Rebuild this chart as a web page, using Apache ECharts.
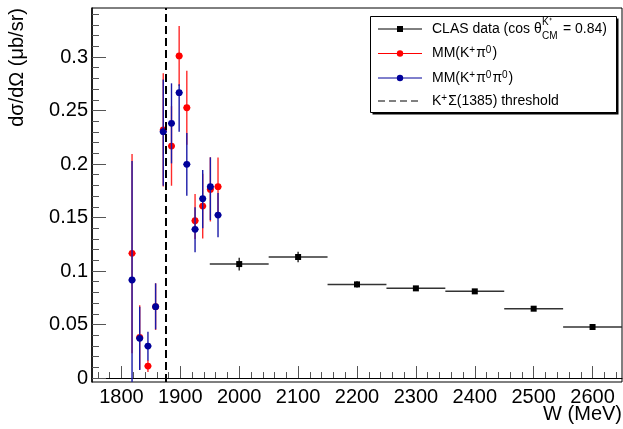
<!DOCTYPE html>
<html><head><meta charset="utf-8">
<script src="https://cdn.jsdelivr.net/npm/echarts@6/dist/echarts.min.js"></script>
<style>html,body{margin:0;padding:0;background:#fff}#c{width:623px;height:429px}</style>
</head><body><div id="c"></div>
<script>
// ---- data ----
const mmW = [1818, 1831, 1845, 1858, 1871, 1885, 1898, 1911, 1925, 1938, 1951, 1964];
const mmWErr = 6;
const redVal = [0.1165, 0.038, 0.0112, 0.0667, 0.2318, 0.2168, 0.301, 0.2526, 0.147, 0.1607, 0.1763, 0.1788];
const redLo  = [0.0231, 0.008, 0.0056, 0.0450, 0.1790, 0.1797, 0.273, 0.2180, 0.130, 0.1305, 0.1463, 0.1514];
const redHi  = [0.2093, 0.068, 0.0168, 0.0885, 0.2848, 0.2540, 0.329, 0.2872, 0.172, 0.1910, 0.2063, 0.2062];
const blueVal = [0.0916, 0.0371, 0.0299, 0.0667, 0.2302, 0.2380, 0.2667, 0.1997, 0.1390, 0.1676, 0.1788, 0.1523];
const blueLo  = [-0.0190, 0.0075, 0.0164, 0.0455, 0.1797, 0.2006, 0.2302, 0.1704, 0.1175, 0.1399, 0.1477, 0.1315];
const blueHi  = [0.2028, 0.0667, 0.0433, 0.0885, 0.2790, 0.2754, 0.2745, 0.2290, 0.1595, 0.1944, 0.2062, 0.1730];
const clasW = [2000, 2100, 2200, 2300, 2400, 2500, 2600];
const clasWErr = 50;
const clasVal = [0.1065, 0.1131, 0.0875, 0.0838, 0.0810, 0.0648, 0.0477];
const clasErr = [0.006, 0.005, 0.003, 0.002, 0.002, 0.002, 0.002];
const thresholdW = 1876;
const xTickLabels = [1800, 1900, 2000, 2100, 2200, 2300, 2400, 2500, 2600];
const yTickLabels = [0, 0.05, 0.1, 0.15, 0.2, 0.25, 0.3];
const xMinorTicks = []; for (let v = 1760; v <= 2640; v += 20) xMinorTicks.push(v);
const yMinorTicks = []; for (let k = 0; k <= 34; k++) yMinorTicks.push(+(k * 0.01).toFixed(2));

// ---- build ----
const FONT = 'Liberation Sans, Arial, Helvetica, sans-serif';
const clasData = clasW.map((w, i) => [w, clasVal[i], w - clasWErr, w + clasWErr, clasVal[i] - clasErr[i], clasVal[i] + clasErr[i]]);
const redData = mmW.map((w, i) => [w, redVal[i], w - mmWErr, w + mmWErr, redLo[i], redHi[i]]);
const blueData = mmW.map((w, i) => [w, blueVal[i], w - mmWErr, w + mmWErr, blueLo[i], blueHi[i]]);

function makeRender(color, barColor, shape, hw, vw) {
  return function (params, api) {
    const cs = params.coordSys;
    const cl = v => Math.min(Math.max(v, cs.y), cs.y + cs.height);
    const x = api.value(0), y = api.value(1);
    const c = api.coord([x, y]);
    const pl = api.coord([api.value(2), y]);
    const ph = api.coord([api.value(3), y]);
    const py1 = api.coord([x, api.value(4)]);
    const py2 = api.coord([x, api.value(5)]);
    const children = [
      { type: 'line', shape: { x1: pl[0], y1: c[1], x2: ph[0], y2: c[1] }, style: { stroke: barColor, lineWidth: hw } },
      { type: 'line', shape: { x1: c[0], y1: cl(py1[1]), x2: c[0], y2: cl(py2[1]) }, style: { stroke: barColor, lineWidth: vw } }
    ];
    if (shape === 'square') {
      children.push({ type: 'rect', shape: { x: c[0] - 3, y: c[1] - 3, width: 6, height: 6 }, style: { fill: color } });
    } else {
      children.push({ type: 'circle', shape: { cx: c[0], cy: c[1], r: 3.4 }, style: { fill: color } });
    }
    return { type: 'group', children };
  };
}

const fmt = v => String(v);
const option = {
  animation: false,
  backgroundColor: '#fff',
  grid: [{ left: 92, right: 1, top: 8, bottom: 47, show: true, borderColor: '#000', borderWidth: 1, backgroundColor: 'transparent' }],
  xAxis: [
    { type: 'value', gridIndex: 0, position: 'bottom', min: 1750, max: 2650,
      axisLine: { show: true, lineStyle: { color: '#000', width: 1 } },
      axisTick: { show: true, inside: true, length: 12, customValues: xTickLabels, lineStyle: { color: '#555', width: 1 } },
      axisLabel: { show: true, customValues: xTickLabels, formatter: fmt, fontSize: 20, color: '#000', margin: 5, fontFamily: FONT },
      splitLine: { show: false } },
    { type: 'value', gridIndex: 0, position: 'bottom', min: 1750, max: 2650,
      axisLine: { show: false },
      axisTick: { show: true, inside: true, length: 6, customValues: xMinorTicks, lineStyle: { color: '#555', width: 1 } },
      axisLabel: { show: false }, splitLine: { show: false } }
  ],
  yAxis: [
    { type: 'value', gridIndex: 0, position: 'left', min: -0.0037, max: 0.3458,
      axisLine: { show: true, lineStyle: { color: '#000', width: 1.5 } },
      axisTick: { show: true, inside: true, length: 14, customValues: yTickLabels, lineStyle: { color: '#555', width: 1 } },
      axisLabel: { show: true, customValues: yTickLabels, formatter: fmt, fontSize: 20, color: '#000', margin: 4, fontFamily: FONT },
      splitLine: { show: false } },
    { type: 'value', gridIndex: 0, position: 'left', min: -0.0037, max: 0.3458,
      axisLine: { show: false },
      axisTick: { show: true, inside: true, length: 7, customValues: yMinorTicks, lineStyle: { color: '#555', width: 1 } },
      axisLabel: { show: false }, splitLine: { show: false } }
  ],
  series: [
    { name: 'K+Σ(1385) threshold', type: 'line', xAxisIndex: 0, yAxisIndex: 0, data: [], silent: true,
      markLine: { silent: true, symbol: 'none', label: { show: false },
        lineStyle: { color: '#000', width: 2, type: [8, 4] },
        data: [{ xAxis: thresholdW }] } },
    { name: 'CLAS data', type: 'custom', xAxisIndex: 0, yAxisIndex: 0, data: clasData,
      renderItem: makeRender('#000', '#333', 'square', 1.5, 1.5) },
    { name: 'MM(K+π0)', type: 'custom', xAxisIndex: 0, yAxisIndex: 0, data: redData,
      renderItem: makeRender('#ff0000', '#ff2a2a', 'circle', 1.3, 1.4) },
    { name: 'MM(K+π0π0)', type: 'custom', xAxisIndex: 0, yAxisIndex: 0, data: blueData,
      renderItem: makeRender('#00009a', '#1a1aa8', 'circle', 1.3, 1.4) }
  ],
  graphic: [
    // axis titles
    { type: 'text', x: 17, y: 8, rotation: Math.PI / 2,
      style: { text: 'dσ/dΩ (μb/sr)', font: '20px ' + FONT, fill: '#000', align: 'right', verticalAlign: 'middle' } },
    { type: 'text', x: 622, y: 414,
      style: { text: 'W (MeV)', font: '20px ' + FONT, fill: '#000', align: 'right', verticalAlign: 'middle' } },
    // legend box
    { type: 'rect', shape: { x: 372.5, y: 18.5, width: 246, height: 96 }, style: { fill: '#000' } },
    { type: 'rect', shape: { x: 370.5, y: 16.5, width: 246, height: 96 }, style: { fill: '#fff', stroke: '#000', lineWidth: 1 } },
    // row 1
    { type: 'line', shape: { x1: 378, y1: 29, x2: 422, y2: 29 }, style: { stroke: '#000', lineWidth: 1 } },
    { type: 'rect', shape: { x: 397, y: 26, width: 6, height: 6 }, style: { fill: '#000' } },
    { type: 'text', x: 432, y: 29, style: { text: 'CLAS data (cos θ', font: '14px ' + FONT, fill: '#000', verticalAlign: 'middle' } },
    { type: 'text', x: 542, y: 22, style: { text: 'K⁺', font: '10px ' + FONT, fill: '#000', verticalAlign: 'middle' } },
    { type: 'text', x: 542, y: 36, style: { text: 'CM', font: '10px ' + FONT, fill: '#000', verticalAlign: 'middle' } },
    { type: 'text', x: 563, y: 29, style: { text: '= 0.84)', font: '14px ' + FONT, fill: '#000', verticalAlign: 'middle' } },
    // row 2
    { type: 'line', shape: { x1: 378, y1: 53.5, x2: 422, y2: 53.5 }, style: { stroke: '#ff0000', lineWidth: 1 } },
    { type: 'circle', shape: { cx: 400, cy: 53.5, r: 3.2 }, style: { fill: '#ff0000' } },
    { type: 'text', x: 432, y: 53.5, style: {
        text: '{t|MM(K}{s|+}{t|π}{s|0}{t|)}', fill: '#000', verticalAlign: 'middle',
        rich: { t: { font: '14px ' + FONT, fill: '#000' }, s: { font: '10px ' + FONT, fill: '#000', verticalAlign: 'top', padding: [0, 1, 6, 0] } } } },
    // row 3
    { type: 'line', shape: { x1: 378, y1: 78, x2: 422, y2: 78 }, style: { stroke: '#00009a', lineWidth: 1 } },
    { type: 'circle', shape: { cx: 400, cy: 78, r: 3.2 }, style: { fill: '#00009a' } },
    { type: 'text', x: 432, y: 78, style: {
        text: '{t|MM(K}{s|+}{t|π}{s|0}{t|π}{s|0}{t|)}', fill: '#000', verticalAlign: 'middle',
        rich: { t: { font: '14px ' + FONT, fill: '#000' }, s: { font: '10px ' + FONT, fill: '#000', verticalAlign: 'top', padding: [0, 1, 6, 0] } } } },
    // row 4
    { type: 'line', shape: { x1: 378, y1: 101, x2: 422, y2: 101 }, style: { stroke: '#000', lineWidth: 1, lineDash: [7, 4] } },
    { type: 'text', x: 432, y: 101, style: {
        text: '{t|K}{s|+}{t|Σ(1385) threshold}', fill: '#000', verticalAlign: 'middle',
        rich: { t: { font: '14px ' + FONT, fill: '#000' }, s: { font: '10px ' + FONT, fill: '#000', verticalAlign: 'top', padding: [0, 1, 6, 0] } } } }
  ]
};
const chart = echarts.init(document.getElementById('c'), null, { renderer: 'canvas' });
chart.setOption(option);
</script>
</body></html>
